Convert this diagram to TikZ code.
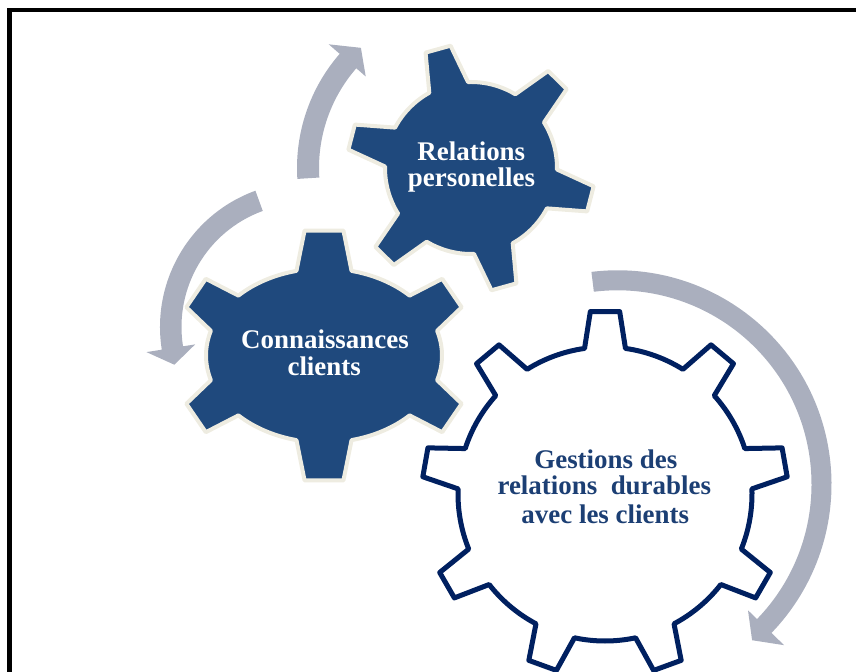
\documentclass[tikz,border=0pt]{standalone}
\usepackage{fontspec}
\setmainfont{Liberation Serif}
\definecolor{gearblue}{RGB}{31,73,125}
\definecolor{gearrim}{RGB}{238,236,225}
\definecolor{gearnavy}{RGB}{0,32,96}
\definecolor{arrowgray}{RGB}{170,175,190}
\definecolor{labelblue}{RGB}{28,63,116}

% gear outline; parameters: teeth, first tooth angle, base half angle, tip half angle,
% body x/y radius, tip x/y radius (set with \def before use)
\newcommand{\gearpath}[1]{%
  \path[#1] ({\grx*cos(\gA-\gHB)},{\gry*sin(\gA-\gHB)})
  \foreach \k [evaluate=\k as \ta using {\gA+(\k-1)*360/\gN}, evaluate=\k as \tb using {\gA+\k*360/\gN}] in {1,...,\gN}{
    -- ({\gRx*cos(\ta-\gHT)},{\gRy*sin(\ta-\gHT)})
    -- ({\gRx*cos(\ta+\gHT)},{\gRy*sin(\ta+\gHT)})
    -- ({\grx*cos(\ta+\gHB)},{\gry*sin(\ta+\gHB)})
    arc[start angle=\ta+\gHB, end angle=\tb-\gHB, x radius=\grx, y radius=\gry]
  } -- cycle;}

\tikzset{
  darkgear/.style={fill=gearblue, draw=gearrim, line width=3pt, line join=round},
  whitegear/.style={fill=white, draw=gearnavy, line width=3.75pt, line join=round},
  cyclearrow/.style={fill=arrowgray},
  lbl/.style={anchor=base, inner sep=0pt, font=\fontsize{20.2}{24}\selectfont\bfseries},
  frame/.style={draw=black, line width=3.4pt}
}

\begin{document}
\begin{tikzpicture}[x=0.75pt, y=0.75pt]
\useasboundingbox (0,0) rectangle (856,671);
\clip (0,0) rectangle (856,671);

% frame (runs past the right and bottom edges)
\path[frame] (9.5,-40) -- (9.5,661) -- (900,661);

% circular arrows
\fill[cyclearrow, shift={(471,503)}] (183.6:174) arc[start angle=183.6, end angle=139, radius=174]
  -- (139:188.5) -- (132.5:163) -- (139:139.5) -- (139:152)
  arc[start angle=139, end angle=183.6, radius=152] -- cycle;
\fill[cyclearrow, shift={(305,344)}] (110:145) arc[start angle=110, end angle=189, radius=145]
  -- (189:160.5) -- (196.1:136) -- (189:111.2) -- (189:123.5)
  arc[start angle=189, end angle=110, radius=123.5] -- cycle;
\fill[cyclearrow, shift={(617.5,186.7)}] (97:214) arc[start angle=97, end angle=-44, radius=214]
  -- (-44:231.6) -- (-49.2:206) -- (-44:181.4) -- (-44:194)
  arc[start angle=-44, end angle=97, radius=194] -- cycle;

% gear 1: Relations personelles
\def\gN{6}\def\gA{-14.5}\def\gHB{13.5}\def\gHT{6}
\def\grx{86}\def\gry{86}\def\gRx{124}\def\gRy{124}
\gearpath{darkgear, shift={(471,503)}}

% gear 2: Connaissances clients
\def\gN{6}\def\gA{90}\def\gHB{13.5}\def\gHT{7.5}
\def\grx{118}\def\gry{87}\def\gRx{149}\def\gRy{126}
\gearpath{darkgear, shift={(324,315.5)}}

% gear 3: Gestions des relations durables
\def\gN{9}\def\gA{90}\def\gHB{8}\def\gHT{4.6}
\def\grx{147}\def\gry{147}\def\gRx{183}\def\gRy{183}
\gearpath{whitegear, shift={(605,177)}}

% labels
\node[lbl, text=white] (rp1) at (471.3,510) {Relations};
\node[lbl, text=white] (rp2) at (471.5,484.3) {personelles};
\node[lbl, text=white] (cc1) at (325,322.7) {Connaissances};
\node[lbl, text=white] (cc2) at (324.2,295.3) {clients};
\node[lbl, text=labelblue] (gr1) at (605.8,202.7) {Gestions des};
\node[lbl, text=labelblue] (gr2) at (604.3,176) {relations~~durables};
\node[lbl, text=labelblue] (gr3) at (605.2,147.7) {avec les clients};
\end{tikzpicture}
\end{document}
